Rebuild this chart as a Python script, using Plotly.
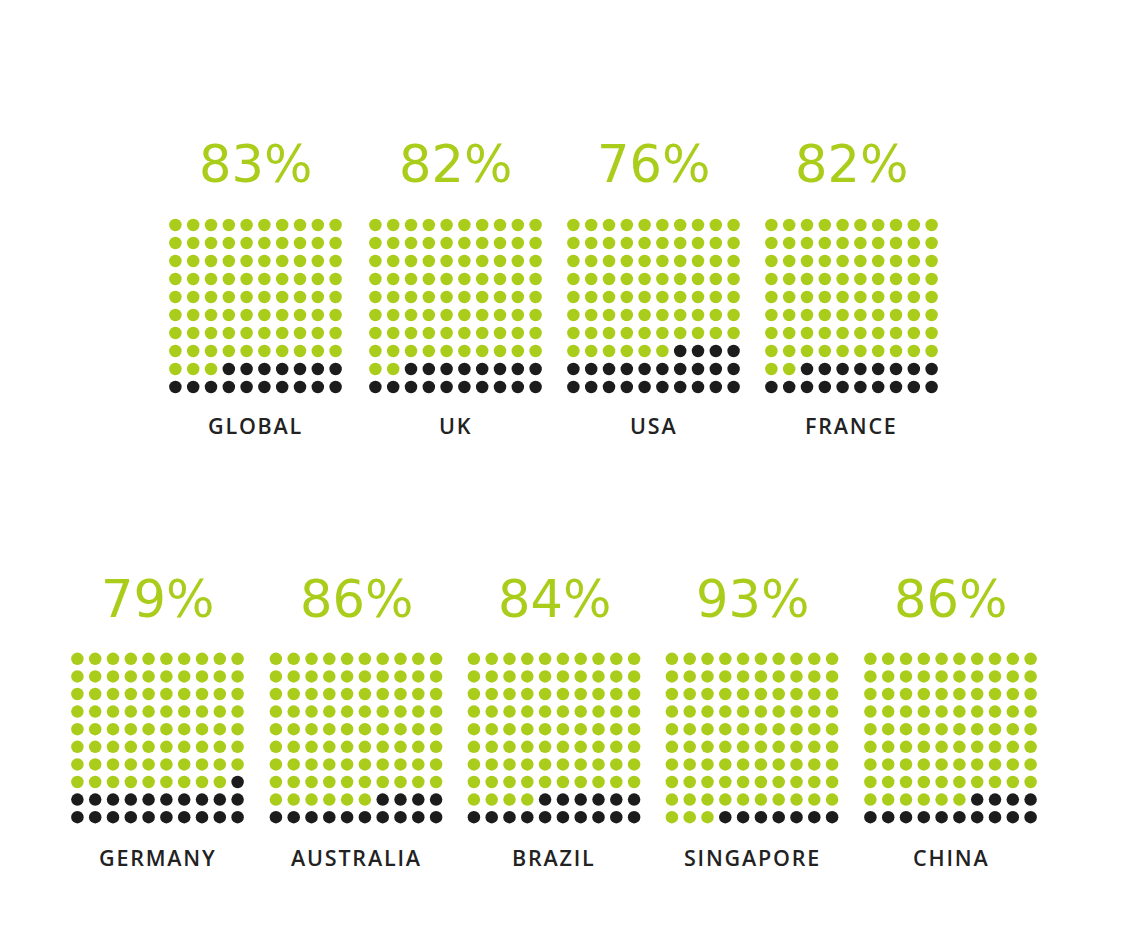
import plotly.graph_objects as go

W, H = 1129, 939

countries = ["GLOBAL", "UK", "USA", "FRANCE",
             "GERMANY", "AUSTRALIA", "BRAZIL", "SINGAPORE", "CHINA"]
values = [83, 82, 76, 82, 79, 86, 84, 93, 86]
pct_labels = ["83%", "82%", "76%", "82%", "79%", "86%", "84%", "93%", "86%"]

GREEN = "#a9cd1a"
BLACK = "#1c1c1c"

# layout of panels (pixel centres of each 10x10 grid)
row_of = [0, 0, 0, 0, 1, 1, 1, 1, 1]
grid_cx = [255.5, 455.5, 653.5, 851.5, 157.5, 356, 554, 752, 950.5]
grid_top = {0: 216, 1: 650}
grid_h = {0: 180, 1: 176}
grid_w = 178
pct_y = {0: 165, 1: 599}
lab_y = {0: 425, 1: 857}

fig = go.Figure()
annotations = []
for i, (name, v) in enumerate(zip(countries, values)):
    r = row_of[i]
    cols, rows, colors = [], [], []
    for k in range(100):
        rows.append(k // 10)
        cols.append(k % 10)
        colors.append(GREEN if k < v else BLACK)
    ax = "" if i == 0 else str(i + 1)
    fig.add_trace(go.Scatter(
        x=cols, y=rows, mode="markers",
        marker=dict(size=12.5, color=colors, line=dict(width=0)),
        xaxis="x" + ax, yaxis="y" + ax, showlegend=False, hoverinfo="skip"))
    x0 = (grid_cx[i] - grid_w / 2) / W
    x1 = (grid_cx[i] + grid_w / 2) / W
    y1 = 1 - grid_top[r] / H
    y0 = 1 - (grid_top[r] + grid_h[r]) / H
    common = dict(showgrid=False, zeroline=False, showticklabels=False,
                  ticks="", showline=False, fixedrange=True)
    fig.update_layout(**{
        "xaxis" + ax: dict(domain=[x0, x1], range=[-0.5, 9.5], anchor="y" + ax, **common),
        "yaxis" + ax: dict(domain=[y0, y1], range=[9.5, -0.5], anchor="x" + ax, **common),
    })
    annotations.append(dict(
        x=grid_cx[i] / W, y=1 - pct_y[r] / H, xref="paper", yref="paper",
        text=pct_labels[i], showarrow=False, xanchor="center", yanchor="middle",
        font=dict(family="DejaVu Sans", size=51, color=GREEN)))
    annotations.append(dict(
        x=grid_cx[i] / W, y=1 - lab_y[r] / H, xref="paper", yref="paper",
        text='<span style="letter-spacing:1.8px">' + name + "</span>",
        showarrow=False, xanchor="center", yanchor="middle",
        font=dict(family="Open Sans", size=21.5, weight=600, color="#222222")))

fig.update_layout(width=W, height=H, margin=dict(l=0, r=0, t=0, b=0),
                  paper_bgcolor="white", plot_bgcolor="white",
                  annotations=annotations)
fig.write_html("out.html")
